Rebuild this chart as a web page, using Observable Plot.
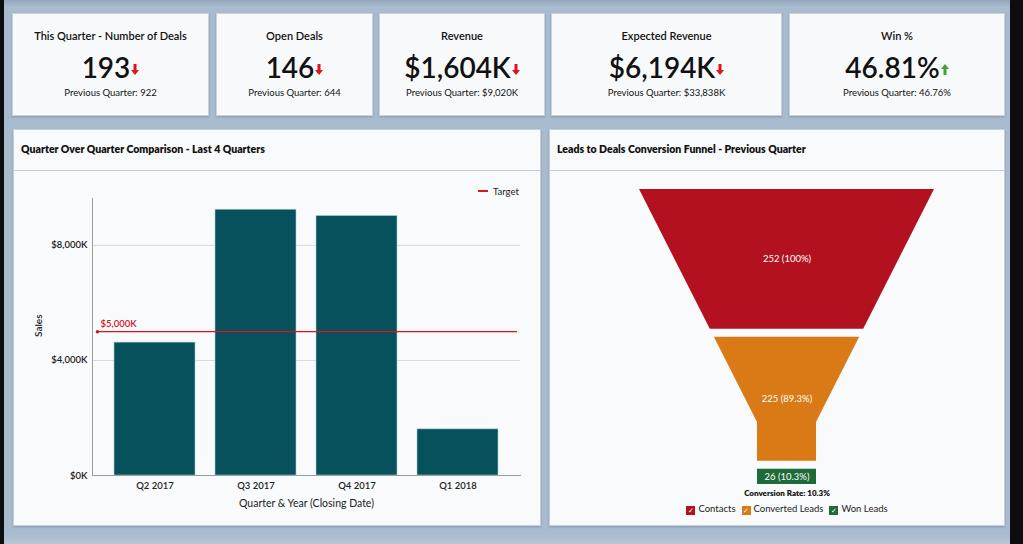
<!DOCTYPE html>
<html>
<head>
<meta charset="utf-8">
<script src="https://cdn.jsdelivr.net/npm/d3@7"></script>
<script src="https://cdn.jsdelivr.net/npm/@observablehq/plot@0.6"></script>
<style>
  html, body { margin: 0; padding: 0; }
  body { width: 1023px; height: 544px; position: relative; overflow: hidden;
         background: linear-gradient(#93a6bb 0px, #a9bbce 7px, #a9bbce 535px, #b9c7d5 544px);
         font-family: Lato, "Open Sans", sans-serif; color: #111; }
  .strip { position: absolute; top: 0; height: 544px; background: #0d0d10; }
  .card { position: absolute; top: 13px; height: 103px; background: #f8f9fb;
          border: 1px solid #c9d3de; box-sizing: border-box; box-shadow: 0 1px 2px rgba(60,80,110,0.35);
          text-align: center; }
  .card .t { position: absolute; left: 0; right: 0; top: 15px; font-size: 11px; font-weight: 600; color: #111; }
  .card .v { position: absolute; left: 0; right: 0; top: 34px; font-size: 28px; font-weight: 600; color: #111; line-height: 38px; white-space: nowrap; }
  .card .v svg { display: inline-block; vertical-align: middle; margin-left: 1px; margin-top: -2px; }
  .card .p { position: absolute; left: 0; right: 0; top: 73px; font-size: 9.5px; color: #111; }
  .panel { position: absolute; top: 129px; height: 397px; background: #f9fafb; border: 1px solid #c3cfdb;
           box-sizing: border-box; box-shadow: 0 1px 2px rgba(60,80,110,0.35); }
  .panel .h { position: absolute; left: 0; right: 0; top: 0; height: 40px; border-bottom: 1px solid #c2cedb; }
  .panel .h span { position: absolute; left: 7px; top: 13px; font-size: 10.5px; font-weight: 800; color: #111; white-space: nowrap; }
  .chart { position: absolute; }
  .lg { position: absolute; font-size: 9px; color: #222; white-space: nowrap; }
  .sw { display: inline-block; width: 9px; height: 9px; color: #fff; font-size: 7px; line-height: 9px; text-align: center; vertical-align: -1px; margin-right: 3px; }
</style>
</head>
<body>
<div class="strip" style="left:0;width:4px"></div>
<div class="strip" style="left:1010px;width:13px"></div>
<div id="cards"></div>
<div class="panel" style="left:13px;width:528px"><div class="h"><span>Quarter Over Quarter Comparison - Last 4 Quarters</span></div></div>
<div class="panel" style="left:549px;width:456px"><div class="h"><span>Leads to Deals Conversion Funnel - Previous Quarter</span></div></div>
<div id="bar" class="chart" style="left:13px;top:170px"></div>
<div id="funnel" class="chart" style="left:549px;top:170px"></div>
<div class="lg" style="left:478px;top:186px;font-size:9.5px"><span style="display:inline-block;width:10px;height:2px;background:#d7141f;vertical-align:3px;margin-right:5px"></span>Target</div>
<div id="conv" class="lg" style="left:569px;width:436px;top:488px;text-align:center;font-size:8px;font-weight:800;color:#111"></div>
<div id="flegend" class="lg" style="left:569px;width:436px;top:503px;text-align:center;font-size:9.5px"></div>
<script>
// ---- KPI data ----
const kpiTitles = ["This Quarter - Number of Deals", "Open Deals", "Revenue", "Expected Revenue", "Win %"];
const kpiValues = ["193", "146", "$1,604K", "$6,194K", "46.81%"];
const kpiPrevious = ["922", "644", "$9,020K", "$33,838K", "46.76%"];
const kpiTrend = ["down", "down", "down", "down", "up"];

// ---- Quarter over quarter data ----
const quarters = ["Q2 2017", "Q3 2017", "Q4 2017", "Q1 2018"];
const sales = [4620, 9240, 9020, 1604];
const target = 5000;
const yTicks = [0, 4000, 8000];

// ---- Funnel data ----
const stages = ["Contacts", "Converted Leads", "Won Leads"];
const stageValues = [252, 225, 26];
const stageColors = ["#b3111f", "#d97a17", "#1e6a38"];

// ---- KPI cards (layout) ----
const cardBoxes = [[12, 197], [216, 157], [379, 166], [551, 231], [789, 216]];
const arrow = (dir) => {
  const c = dir === "up" ? "#3fa535" : "#e0121b";
  const pts = dir === "up" ? "3.5,0 7.5,5 5,5 5,11 2,11 2,5 -0.5,5" : "2,0 5,0 5,6 7.5,6 3.5,11 -0.5,6 2,6";
  return `<svg width="8" height="11" viewBox="-0.5 0 8 11"><polygon points="${pts}" fill="${c}"/></svg>`;
};
const cards = document.getElementById("cards");
kpiTitles.forEach((t, i) => {
  const d = document.createElement("div");
  d.className = "card";
  d.style.left = cardBoxes[i][0] + "px";
  d.style.width = cardBoxes[i][1] + "px";
  d.innerHTML = `<div class="t">${t}</div><div class="v">${kpiValues[i]}${arrow(kpiTrend[i])}</div><div class="p">Previous Quarter: ${kpiPrevious[i]}</div>`;
  cards.appendChild(d);
});

// ---- Bar chart ----
const fmtK = d => "$" + d3.format(",")(d) + "K";
const bars = quarters.map((q, i) => ({quarter: q, sales: sales[i]}));
const red = "#d7141f";
const barChart = Plot.plot({
  width: 528, height: 355,
  marginLeft: 79, marginRight: 21, marginTop: 28, marginBottom: 50,
  style: {fontFamily: "Lato, sans-serif", fontSize: "9.5px", color: "#222", background: "transparent", overflow: "visible"},
  x: {domain: quarters, padding: 0.2, label: null},
  y: {domain: [0, 9630], label: null},
  marks: [
    Plot.gridY(yTicks.filter(d => d > 0), {stroke: "#d8d8d8", strokeOpacity: 1}),
    Plot.barY(bars, {x: "quarter", y: "sales", fill: "#06515b", stroke: "#a6d0d2", strokeWidth: 0.6}),
    Plot.frame({anchor: "left", stroke: "#9c9c9c"}),
    Plot.frame({anchor: "bottom", stroke: "#9c9c9c"}),
    Plot.ruleY([target], {y: d => d, stroke: red, strokeWidth: 1.2, insetLeft: 4, insetRight: 3}),
    Plot.dot([target], {y: d => d, frameAnchor: "left", dx: 5, r: 1.8, fill: red, stroke: null}),
    Plot.text([target], {y: d => d, text: d => fmtK(d), frameAnchor: "left", dx: 8, dy: -8, fill: red, textAnchor: "start", fontSize: 9.5, fontWeight: 600}),
    Plot.axisY(yTicks, {tickSize: 0, tickPadding: 5, tickFormat: fmtK, fontSize: 9.5, fontWeight: 600, label: null}),
    Plot.axisX({tickSize: 0, tickPadding: 7, label: null, fontSize: 9.5, fontWeight: 600}),
    Plot.text(["Sales"], {text: d => d, frameAnchor: "left", dx: -54, rotate: -90, fontSize: 10, fontWeight: 600, fill: "#222"}),
    Plot.text(["Quarter & Year (Closing Date)"], {text: d => d, frameAnchor: "bottom", dy: 31, fontSize: 10.5, fill: "#222"})
  ]
});
document.getElementById("bar").appendChild(barChart);

// ---- Funnel ----
const total = d3.sum(stageValues);
const cum = [0, ...d3.cumsum(stageValues)];
const neckWidth = 0.2, neckHeight = 0.21, gap = total * 0.027;
const neckY = total * (1 - neckHeight);
const widthAt = v => v <= neckY ? 1 - (1 - neckWidth) * v / neckY : neckWidth;
const pctFmt = d3.format(".3~r");
const funnelArea = [];
const funnelLabels = [];
stages.forEach((s, i) => {
  const y0 = cum[i];
  const y1 = cum[i + 1] - (i < stages.length - 1 ? gap : 0);
  const ys = [y0];
  if (neckY > y0 && neckY < y1) ys.push(neckY);
  ys.push(y1);
  ys.forEach(y => funnelArea.push({stage: s, y, x1: -widthAt(y) / 2, x2: widthAt(y) / 2}));
  funnelLabels.push({stage: s, y: (y0 + y1) / 2,
    label: `${stageValues[i]} (${pctFmt(stageValues[i] / stageValues[0] * 100)}%)`});
});
const funnelChart = Plot.plot({
  width: 456, height: 320,
  marginLeft: 90, marginRight: 71, marginTop: 19, marginBottom: 6,
  style: {fontFamily: "Lato, sans-serif", background: "transparent"},
  x: {domain: [-0.5, 0.5], axis: null},
  y: {domain: [0, total], reverse: true, axis: null},
  color: {domain: stages, range: stageColors},
  marks: [
    Plot.areaX(funnelArea, {y: "y", x1: "x1", x2: "x2", z: "stage", fill: "stage", curve: "linear"}),
    Plot.text(funnelLabels, {x: () => 0, y: "y", text: "label", fill: "white", fontSize: 9.5})
  ]
});
document.getElementById("funnel").appendChild(funnelChart);

document.getElementById("conv").textContent =
  `Conversion Rate: ${pctFmt(stageValues[stageValues.length - 1] / stageValues[0] * 100)}%`;
document.getElementById("flegend").innerHTML = stages.map((s, i) =>
  `<span style="margin:0 3px"><span class="sw" style="background:${stageColors[i]}">&#10003;</span>${s}</span>`).join("");
</script>
</body>
</html>
